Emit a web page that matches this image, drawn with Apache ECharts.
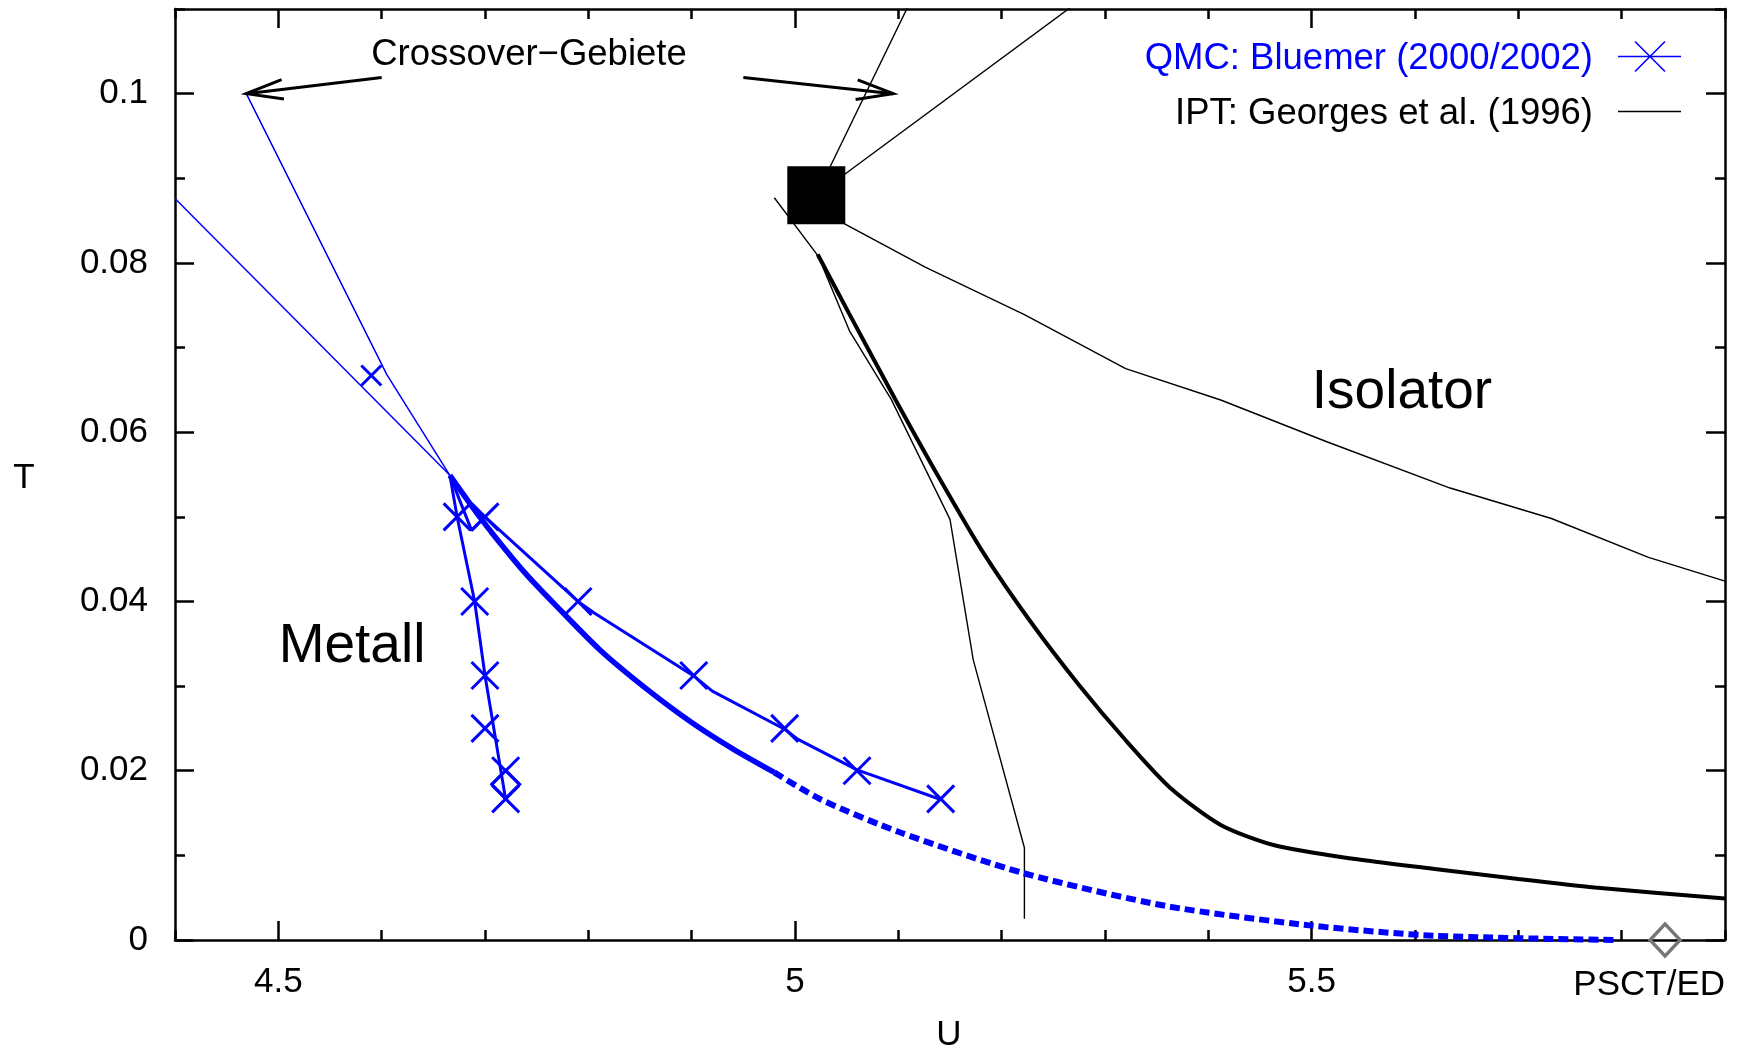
<!DOCTYPE html>
<html>
<head>
<meta charset="utf-8">
<script src="https://cdn.jsdelivr.net/npm/echarts@6/dist/echarts.min.js"></script>
<style>
  html, body { margin: 0; padding: 0; background: #fff; }
  #chart { width: 1737px; height: 1050px; }
</style>
</head>
<body>
<div id="chart"></div>
<script>
// ---- axes -------------------------------------------------------------
const uMin = 4.4, uMax = 5.9;
const tMin = 0, tMax = 0.11;
const uMajorTicks = [4.5, 5, 5.5];
const tMajorTicks = [0, 0.02, 0.04, 0.06, 0.08, 0.1];

// ---- QMC: Bluemer (2000/2002) ------------------------------------------
const qmcLeftLine = [[4.666, 0.0549], [4.673, 0.050], [4.690, 0.040], [4.700, 0.03125], [4.720, 0.0166]];
const qmcLeftCross = [[4.673, 0.05], [4.690, 0.04], [4.700, 0.03125], [4.700, 0.025], [4.720, 0.02], [4.720, 0.01667]];
const qmcRightLine = [[4.666, 0.0549], [4.687, 0.0484], [4.700, 0.050], [4.790, 0.040], [4.805, 0.0387],
                      [4.902, 0.0312], [4.920, 0.0294], [4.990, 0.0249], [5.003, 0.0237], [5.060, 0.0201], [5.141, 0.0166]];
const qmcRightCross = [[4.700, 0.05], [4.790, 0.04], [4.902, 0.03125], [4.990, 0.025], [5.060, 0.02], [5.141, 0.01667]];
const qmcSingleCross = [[4.590, 0.0667]];
const qmcDiamond = [[4.720, 0.0184]];
const qmcTransition = [[4.666, 0.0549], [4.690, 0.0508], [4.712, 0.0473], [4.740, 0.0432], [4.768, 0.0396],
                       [4.811, 0.0343], [4.856, 0.0297], [4.900, 0.0257], [4.941, 0.0225], [4.980, 0.0198]];
const qmcExtrapolated = [[4.980, 0.0198], [5.025, 0.0166], [5.102, 0.0127], [5.221, 0.0079], [5.360, 0.0040],
                         [5.500, 0.0017], [5.619, 0.0005], [5.794, 0.0]];
const qmcCrossoverA = [[4.400, 0.0876], [4.666, 0.0549]];
const qmcCrossoverB = [[4.469, 0.1], [4.605, 0.0668], [4.666, 0.0549]];

// ---- IPT: Georges et al. (1996) ------------------------------------------
const iptCritical = [[5.0206, 0.088]];
const iptTransition = [[5.022, 0.0810], [5.052, 0.0741], [5.097, 0.0639], [5.140, 0.0545], [5.182, 0.0458],
                       [5.228, 0.0376], [5.275, 0.0301], [5.320, 0.0236], [5.363, 0.0180], [5.412, 0.0136],
                       [5.464, 0.0112], [5.540, 0.0096], [5.619, 0.0084], [5.700, 0.0072], [5.774, 0.0062], [5.900, 0.0049]];
const iptSpinodal = [[4.980, 0.0877], [5.0225, 0.0808], [5.053, 0.0719], [5.093, 0.0639], [5.150, 0.0497],
                     [5.1725, 0.0331], [5.222, 0.0109], [5.222, 0.0025]];
const iptCrossoverUp = [[5.0206, 0.088], [5.13, 0.1155]];
const iptCrossoverRight = [[5.0206, 0.088], [5.33, 0.1159]];
const iptCrossoverDown = [[5.0206, 0.088], [5.048, 0.0846], [5.126, 0.0795], [5.222, 0.0739], [5.320, 0.0675],
                          [5.412, 0.0638], [5.514, 0.0589], [5.634, 0.0534], [5.732, 0.0498], [5.826, 0.0452], [5.900, 0.0424]];

// ---- PSCT/ED -----------------------------------------------------------
const psctPoint = [[5.842, 0]];

// ---- arrows of the "Crossover-Gebiete" note: [U0, T0, U1, T1] -------------
const crossoverArrows = [[4.600, 0.1019, 4.469, 0.1], [4.950, 0.1019, 5.095, 0.1]];

const BLUE = '#0000ff';
const FONT = '"Liberation Sans", Arial, Helvetica, sans-serif';
const CROSS = 'path://M0,0L10,10M10,0L0,10';

const chart = echarts.init(document.getElementById('chart'), null, { renderer: 'canvas' });

function frame(pos, extra) {
  return Object.assign({
    type: 'value', position: pos,
    axisLine: { show: false, onZero: false, lineStyle: { color: '#000', width: 2.5 } },
    axisTick: { show: false },
    axisLabel: { show: false },
    splitLine: { show: false }
  }, extra);
}
const majorTick = (vals) => ({ show: true, inside: true, length: 19, customValues: vals, lineStyle: { color: '#000', width: 2.5 } });
const minorTick = { show: true, inside: true, length: 10, lineStyle: { color: '#000', width: 2.5 } };
const frameLine = { show: true, onZero: false, lineStyle: { color: '#000', width: 2.5 } };

const xBase = { min: uMin, max: uMax };
const yBase = { min: tMin, max: tMax };

function crossSeries(data, size, width) {
  return {
    type: 'scatter', data: data, symbol: CROSS, symbolSize: size, z: 6,
    itemStyle: { color: 'rgba(0,0,0,0)', borderColor: BLUE, borderWidth: width, opacity: 1 }
  };
}
function lineSeries(data, color, width, extra) {
  return Object.assign({
    type: 'line', data: data, symbol: 'none', showSymbol: false, clip: true, z: 3,
    lineStyle: { color: color, width: width }
  }, extra || {});
}

const option = {
  animation: false,
  backgroundColor: '#fff',
  grid: { left: 175, right: 12, top: 9, bottom: 110, outerBoundsMode: 'none' },
  xAxis: [
    frame('bottom', Object.assign({}, xBase, {
      axisLine: frameLine,
      axisTick: majorTick(uMajorTicks),
      axisLabel: { show: true, customValues: uMajorTicks, margin: 25, color: '#000', fontSize: 35, fontFamily: FONT,
                   formatter: (v) => String(v) }
    })),
    frame('bottom', Object.assign({}, xBase, { interval: 0.1, axisTick: minorTick })),
    frame('top', Object.assign({}, xBase, { axisLine: frameLine, axisTick: majorTick(uMajorTicks) })),
    frame('top', Object.assign({}, xBase, { interval: 0.1, axisTick: minorTick }))
  ],
  yAxis: [
    frame('left', Object.assign({}, yBase, {
      axisLine: frameLine,
      axisTick: majorTick(tMajorTicks),
      axisLabel: { show: true, customValues: tMajorTicks, margin: 27, color: '#000', fontSize: 35, fontFamily: FONT,
                   formatter: (v) => String(v) }
    })),
    frame('left', Object.assign({}, yBase, { interval: 0.01, axisTick: minorTick })),
    frame('right', Object.assign({}, yBase, { axisLine: frameLine, axisTick: majorTick(tMajorTicks) })),
    frame('right', Object.assign({}, yBase, { interval: 0.01, axisTick: minorTick }))
  ],
  series: [
    // IPT lines
    lineSeries(iptCrossoverUp, '#000', 1.4),
    lineSeries(iptCrossoverRight, '#000', 1.4),
    lineSeries(iptCrossoverDown, '#000', 1.4),
    lineSeries(iptSpinodal, '#000', 1.4),
    lineSeries(iptTransition, '#000', 4, { smooth: 0.25 }),
    {
      type: 'scatter', data: iptCritical, symbol: 'rect', symbolSize: 58, z: 8,
      itemStyle: { color: '#000', opacity: 1 }
    },
    // QMC lines
    lineSeries(qmcCrossoverA, BLUE, 1.5),
    lineSeries(qmcCrossoverB, BLUE, 1.5),
    lineSeries(qmcLeftLine, BLUE, 3),
    lineSeries(qmcRightLine, BLUE, 3),
    lineSeries(qmcTransition, BLUE, 5.5, { smooth: 0.25 }),
    lineSeries(qmcExtrapolated, BLUE, 5.5, { smooth: 0.25, lineStyle: { color: BLUE, width: 6, type: [10, 5], cap: 'butt' } }),
    crossSeries(qmcLeftCross, 27, 3),
    crossSeries(qmcRightCross, 27, 3),
    crossSeries(qmcSingleCross, 20, 3),
    {
      type: 'scatter', data: qmcDiamond, symbol: 'diamond', symbolSize: [28, 28], z: 6,
      itemStyle: { color: 'rgba(0,0,0,0)', borderColor: BLUE, borderWidth: 3, opacity: 1 }
    },
    // PSCT/ED point on the U axis
    {
      type: 'scatter', data: psctPoint, symbol: 'diamond', symbolSize: [30, 32], z: 9, clip: false,
      itemStyle: { color: 'rgba(0,0,0,0)', borderColor: '#777', borderWidth: 3.5, opacity: 1 }
    },
    // annotation arrows
    {
      type: 'custom', data: crossoverArrows, z: 7,
      renderItem: function (params, api) {
        const p0 = api.coord([api.value(0), api.value(1)]);
        const p1 = api.coord([api.value(2), api.value(3)]);
        const ang = Math.atan2(p0[1] - p1[1], p0[0] - p1[0]);
        const L = 38, a = 15 * Math.PI / 180;
        const h1 = [p1[0] + L * Math.cos(ang + a), p1[1] + L * Math.sin(ang + a)];
        const h2 = [p1[0] + L * Math.cos(ang - a), p1[1] + L * Math.sin(ang - a)];
        return {
          type: 'group',
          children: [
            { type: 'line', shape: { x1: p0[0], y1: p0[1], x2: p1[0], y2: p1[1] }, style: { stroke: '#000', lineWidth: 3 } },
            { type: 'polyline', shape: { points: [h1, p1, h2] }, style: { stroke: '#000', lineWidth: 3, fill: null } }
          ]
        };
      }
    }
  ],
  graphic: [
    // axis titles
    { type: 'text', x: 949, y: 1035, style: { text: 'U', font: '35px ' + FONT, fill: '#000', align: 'center', verticalAlign: 'middle' } },
    { type: 'text', x: 24, y: 478, style: { text: 'T', font: '35px ' + FONT, fill: '#000', align: 'center', verticalAlign: 'middle' } },
    { type: 'text', x: 1725, y: 985, style: { text: 'PSCT/ED', font: '35px ' + FONT, fill: '#000', align: 'right', verticalAlign: 'middle' } },
    // region labels
    { type: 'text', x: 529, y: 55, style: { text: 'Crossover\u2212Gebiete', font: '36.5px ' + FONT, fill: '#000', align: 'center', verticalAlign: 'middle' } },
    { type: 'text', x: 352, y: 647, style: { text: 'Metall', font: '55px ' + FONT, fill: '#000', align: 'center', verticalAlign: 'middle' } },
    { type: 'text', x: 1402, y: 393, style: { text: 'Isolator', font: '55px ' + FONT, fill: '#000', align: 'center', verticalAlign: 'middle' } },
    // key
    { type: 'text', x: 1593, y: 58.5, style: { text: 'QMC: Bluemer (2000/2002)', font: '36.5px ' + FONT, fill: BLUE, align: 'right', verticalAlign: 'middle' } },
    { type: 'line', shape: { x1: 1618, y1: 56.5, x2: 1681, y2: 56.5 }, style: { stroke: BLUE, lineWidth: 1.6 } },
    { type: 'line', shape: { x1: 1635, y1: 41.5, x2: 1665, y2: 71.5 }, style: { stroke: BLUE, lineWidth: 1.6 } },
    { type: 'line', shape: { x1: 1635, y1: 71.5, x2: 1665, y2: 41.5 }, style: { stroke: BLUE, lineWidth: 1.6 } },
    { type: 'text', x: 1593, y: 114, style: { text: 'IPT: Georges et al. (1996)', font: '36.5px ' + FONT, fill: '#000', align: 'right', verticalAlign: 'middle' } },
    { type: 'line', shape: { x1: 1618, y1: 111.5, x2: 1681, y2: 111.5 }, style: { stroke: '#000', lineWidth: 1.6 } }
  ]
};

chart.setOption(option);
</script>
</body>
</html>
